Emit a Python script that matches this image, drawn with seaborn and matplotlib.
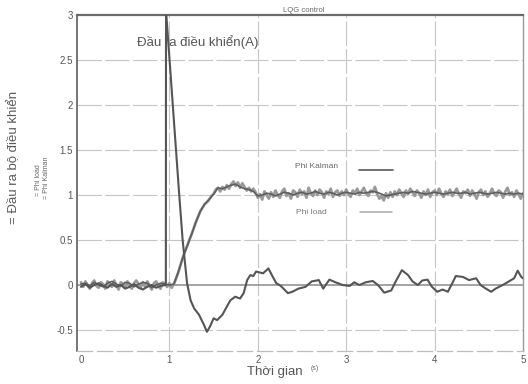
import numpy as np
import pandas as pd
import matplotlib
matplotlib.use("Agg")
import matplotlib.pyplot as plt
import seaborn as sns

# ---------------- data ----------------
# Phi Kalman, t = 0 .. 5 step 0.05
kalman_t = [round(0.05 * i, 3) for i in range(101)]
kalman_v = [
    0.01, 0.02, -0.01, 0.03, 0.00, -0.02, 0.02, 0.04, 0.01, -0.01,
    0.03, 0.02, -0.02, 0.01, 0.03, 0.02, -0.03, 0.00, 0.02, 0.01,
    0.00, 0.01, 0.14, 0.30, 0.43, 0.56, 0.70, 0.82, 0.90, 0.95,
    1.01, 1.08, 1.07, 1.09, 1.11, 1.12, 1.09, 1.07, 1.06, 1.04,
    0.99, 1.00, 1.02, 1.01, 0.99, 1.01, 1.03, 1.02, 1.00, 1.02,
    1.03, 1.01, 1.02, 1.04, 1.02, 1.01, 1.03, 1.02, 1.00, 1.02,
    1.03, 1.02, 1.01, 1.03, 1.02, 1.03, 1.04, 1.03, 1.01, 0.99,
    1.00, 1.01, 1.02, 1.03, 1.02, 1.04, 1.03, 1.02, 1.01, 1.02,
    1.03, 1.02, 1.01, 1.02, 1.03, 1.02, 1.02, 1.03, 1.01, 1.02,
    1.03, 1.02, 1.01, 1.02, 1.03, 1.02, 1.01, 1.02, 1.01, 1.02,
    1.01,
]

# Phi load, t = 0 .. 5 step 0.025
load_t = [round(0.025 * i, 4) for i in range(201)]
load_v = [
    0.03, -0.02, 0.04, 0.00, -0.04, 0.02, 0.05, -0.01, -0.03, 0.03,
    0.01, -0.04, 0.04, 0.02, -0.02, 0.05, 0.00, -0.05, 0.03, 0.01,
    -0.03, 0.04, -0.01, -0.04, 0.02, 0.05, 0.01, -0.03, 0.03, -0.02,
    0.04, 0.00, -0.05, 0.02, 0.04, -0.01, -0.04, 0.03, 0.01, -0.02,
    0.02, -0.03, 0.01, 0.07, 0.14, 0.22, 0.30, 0.37, 0.43, 0.50,
    0.56, 0.63, 0.70, 0.76, 0.82, 0.86, 0.90, 0.92, 0.95, 0.99,
    1.01, 1.06, 1.08, 1.04, 1.09, 1.06, 1.11, 1.07, 1.12, 1.15,
    1.10, 1.14, 1.08, 1.13, 1.09, 1.05, 1.08, 1.04, 1.07, 1.03,
    0.97, 1.01, 0.95, 1.04, 1.00, 0.96, 1.03, 0.98, 1.05, 1.00,
    0.97, 1.04, 1.07, 0.99, 1.02, 0.96, 1.05, 1.03, 0.98, 1.06,
    1.01, 1.04, 0.97, 1.08, 1.02, 0.99, 1.05, 1.00, 1.06, 1.03,
    0.97, 1.04, 1.01, 1.07, 0.98, 1.03, 1.05, 0.99, 1.04, 1.00,
    1.06, 1.01, 0.98, 1.05, 1.02, 1.07, 1.00, 1.04, 1.08, 1.02,
    0.99, 1.05, 1.03, 1.09, 1.01, 0.96, 0.99, 0.94, 1.02, 0.97,
    1.03, 0.98, 1.04, 1.00, 1.06, 1.02, 0.98, 1.05, 1.01, 1.07,
    1.03, 0.99, 1.05, 1.02, 0.97, 1.04, 1.00, 1.06, 0.98, 1.03,
    1.05, 1.00, 1.07, 1.02, 0.98, 1.04, 1.01, 1.06, 0.99, 1.03,
    1.07, 1.01, 0.97, 1.04, 1.02, 1.06, 0.99, 1.05, 1.01, 0.96,
    1.03, 1.06, 1.00, 1.04, 0.98, 1.02, 1.07, 1.01, 0.99, 1.05,
    1.03, 0.97, 1.04, 1.08, 1.00, 1.03, 0.98, 1.05, 1.01, 0.96,
    1.02,
]

# Controller output (A)
ctrl_t = [
    0.00, 0.05, 0.10, 0.15, 0.20, 0.25, 0.30, 0.35, 0.40, 0.45,
    0.50, 0.55, 0.60, 0.65, 0.70, 0.75, 0.80, 0.85, 0.90, 0.95,
    0.96, 0.962, 1.107, 1.15, 1.20, 1.24, 1.28, 1.335, 1.39, 1.425,
    1.46, 1.50, 1.54, 1.60, 1.65, 1.69, 1.745, 1.80, 1.84, 1.88,
    1.915, 1.95, 1.98, 2.06, 2.12, 2.17, 2.21, 2.26, 2.34, 2.39,
    2.46, 2.54, 2.61, 2.69, 2.74, 2.81, 2.88, 2.96, 3.04, 3.09,
    3.15, 3.22, 3.30, 3.36, 3.43, 3.51, 3.56, 3.63, 3.70, 3.75,
    3.81, 3.86, 3.92, 3.97, 4.03, 4.09, 4.15, 4.20, 4.24, 4.32,
    4.39, 4.47, 4.52, 4.58, 4.64, 4.69, 4.77, 4.84, 4.90, 4.94,
    4.98, 5.00,
]
ctrl_v = [
    -0.02, 0.01, -0.03, 0.00, 0.02, -0.01, -0.03, 0.01, -0.02, 0.00,
    -0.04, -0.02, 0.01, -0.03, -0.05, -0.02, 0.00, -0.03, -0.01, 0.00,
    0.00, 3.05, 1.06, 0.50, 0.02, -0.17, -0.26, -0.33, -0.44, -0.52,
    -0.46, -0.37, -0.39, -0.33, -0.24, -0.17, -0.13, -0.15, -0.09, 0.055,
    0.11, 0.10, 0.15, 0.13, 0.185, 0.09, 0.02, -0.01, -0.09, -0.075,
    -0.04, -0.02, 0.04, 0.055, -0.04, 0.06, 0.03, 0.00, -0.01, 0.03,
    0.00, 0.03, 0.045, 0.00, -0.085, -0.06, 0.04, 0.165, 0.11, 0.04,
    0.00, 0.05, 0.06, -0.02, -0.075, -0.05, -0.075, 0.02, 0.10, 0.09,
    0.055, 0.075, 0.00, -0.04, -0.075, -0.04, 0.00, 0.04, 0.075, 0.16,
    0.09, 0.075,
]

x_ticks = [0, 1, 2, 3, 4, 5]
y_ticks = [-0.5, 0, 0.5, 1, 1.5, 2, 2.5, 3]
y_tick_labels = ["-0.5", "0", "0.5", "1", "1.5", "2", "2.5", "3"]

# ---------------- plot ----------------
sns.set_theme(style="white")
plt.rcParams["font.family"] = ["Liberation Sans", "DejaVu Sans"]

fig = plt.figure(figsize=(5.28, 3.84), dpi=100, facecolor="white")
ax = fig.add_axes([77 / 528, 33 / 384, 446 / 528, 336 / 384])
ax.set_facecolor("white")

df_load = pd.DataFrame({"t": load_t, "v": load_v})
df_kal = pd.DataFrame({"t": kalman_t, "v": kalman_v})
df_ctrl = pd.DataFrame({"t": ctrl_t, "v": ctrl_v})

# grid
for xv in x_ticks[1:-1]:
    ax.axvline(xv, color="#c6c6c6", lw=0.8, ls=(0, (22, 3)), zorder=0)
for yv in y_ticks:
    if yv not in (0, 3):
        ax.axhline(yv, color="#c6c6c6", lw=0.8, ls=(0, (22, 3)), zorder=0)
ax.axhline(0, color="#8a8a8a", lw=1.1, zorder=1)

sns.lineplot(data=df_load, x="t", y="v", ax=ax, estimator=None, sort=False,
             color="#9a9a9a", lw=2.0, zorder=2)
sns.lineplot(data=df_kal, x="t", y="v", ax=ax, estimator=None, sort=False,
             color="#5e5e5e", lw=1.2, zorder=3)
sns.lineplot(data=df_ctrl, x="t", y="v", ax=ax, estimator=None, sort=False,
             color="#555555", lw=1.5, zorder=4)

ax.set_xlim(-0.045, 5.0)
ax.set_ylim(-0.733, 3.0)
ax.set_xticks(x_ticks)
ax.set_yticks(y_ticks)
ax.set_yticklabels(y_tick_labels)
ax.tick_params(axis="both", length=0, labelsize=7, colors="#555555", pad=3)
ax.set_xlabel("")
ax.set_ylabel("")

for side in ["top", "right", "left", "bottom"]:
    ax.spines[side].set_visible(True)
ax.spines["top"].set_color("#6a6a6a")
ax.spines["top"].set_linewidth(1.6)
ax.spines["left"].set_color("#6a6a6a")
ax.spines["left"].set_linewidth(1.3)
ax.spines["right"].set_color("#9a9a9a")
ax.spines["right"].set_linewidth(1.0)
ax.spines["bottom"].set_color("#bdbdbd")
ax.spines["bottom"].set_linewidth(0.9)
ax.spines["bottom"].set_linestyle((0, (12, 4)))

# texts
fig.text(304 / 528, 1 - 10 / 384, "LQG control", fontsize=5.5, color="#666666",
         ha="center", va="center")
fig.text(137 / 528, 1 - 42 / 384, "Đầu ra điều khiển(A)", fontsize=9.5,
         color="#555555", ha="left", va="center")
fig.text(295 / 528, 1 - 167 / 384, "Phi Kalman", fontsize=6, color="#666666",
         ha="left", va="center")
fig.text(296 / 528, 1 - 213 / 384, "Phi load", fontsize=6, color="#777777",
         ha="left", va="center")
fig.add_artist(plt.Line2D([359 / 528, 393 / 528], [1 - 170 / 384, 1 - 170 / 384],
                          color="#666666", lw=1.3))
fig.add_artist(plt.Line2D([360 / 528, 392 / 528], [1 - 212 / 384, 1 - 212 / 384],
                          color="#aaaaaa", lw=1.1))

fig.text(14 / 528, 1 - 157 / 384, "= Đầu ra bộ điều khiển", fontsize=9.5,
         color="#5a5a5a", rotation=90, ha="center", va="center")
fig.text(38 / 528, 1 - 180 / 384, "= Phi load", fontsize=5, color="#666666",
         rotation=90, ha="center", va="center")
fig.text(46 / 528, 1 - 178 / 384, "= Phi Kalman", fontsize=5, color="#666666",
         rotation=90, ha="center", va="center")

fig.text(275 / 528, 1 - 372 / 384, "Thời gian", fontsize=9.5, color="#555555",
         ha="center", va="center")
fig.text(311 / 528, 1 - 368 / 384, "(s)", fontsize=5, color="#666666",
         ha="left", va="center")

fig.savefig("out.png", dpi=100, facecolor="white")
